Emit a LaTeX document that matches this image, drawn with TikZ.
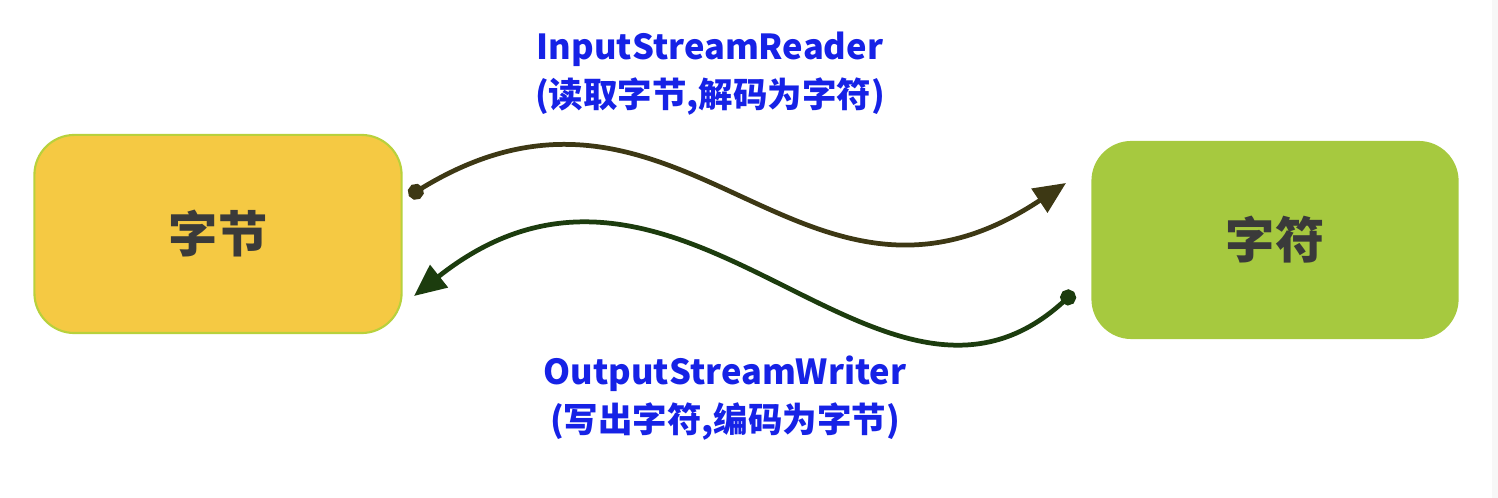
\documentclass[tikz,border=0pt]{standalone}
\usepackage{fontspec}
\usepackage{tikz}
\usetikzlibrary{arrows.meta}
\newfontfamily\cjk{Noto Sans CJK SC}

\definecolor{bytefill}{RGB}{245,201,67}
\definecolor{byteedge}{RGB}{184,209,60}
\definecolor{charfill}{RGB}{166,201,63}
\definecolor{boxtext}{RGB}{58,58,58}
\definecolor{readline}{RGB}{61,56,20}
\definecolor{writeline}{RGB}{28,60,14}
\definecolor{labelblue}{RGB}{22,34,230}

\tikzset{
  box/.style={rounded corners=0.4cm, minimum width=3.67cm, minimum height=1.98cm,
    font=\cjk\bfseries\fontsize{14}{16}\selectfont, text=boxtext},
  wave/.style={line width=1.35pt,
    {Circle[length=0.16cm]}-{Triangle[length=0.32cm,width=0.28cm]}},
  lbl/.style={align=center, text=labelblue, font=\cjk\bfseries\fontsize{9.8}{13.7}\selectfont}
}

\begin{document}
\begin{tikzpicture}[x=0.01cm,y=-0.01cm]
\useasboundingbox (0,0) rectangle (1498,498);
\fill[gray!6] (1492,0) rectangle (1498,498);
% nodes

\node[box, fill=bytefill, draw=byteedge, line width=0.6pt] (B) at (218,234) {字节};
\node[box, fill=charfill] (C) at (1275,240) {字符};

\node[lbl] (R) at (710,74) {InputStreamReader\\(读取字节,解码为字符)};
\node[lbl] (W) at (725,398) {OutputStreamWriter\\(写出字符,编码为字节)};

\coordinate (B1) at (409,196);
\coordinate (C1) at (1066,183);
\coordinate (C2) at (1074,292);
\coordinate (B2) at (414,296);

% arrows
\draw [wave, readline] (B1) .. controls (680,30) and (800,360) .. (C1);
\draw [wave, writeline] (C2) .. controls (880,470) and (680,85) .. (B2);
\end{tikzpicture}
\end{document}
